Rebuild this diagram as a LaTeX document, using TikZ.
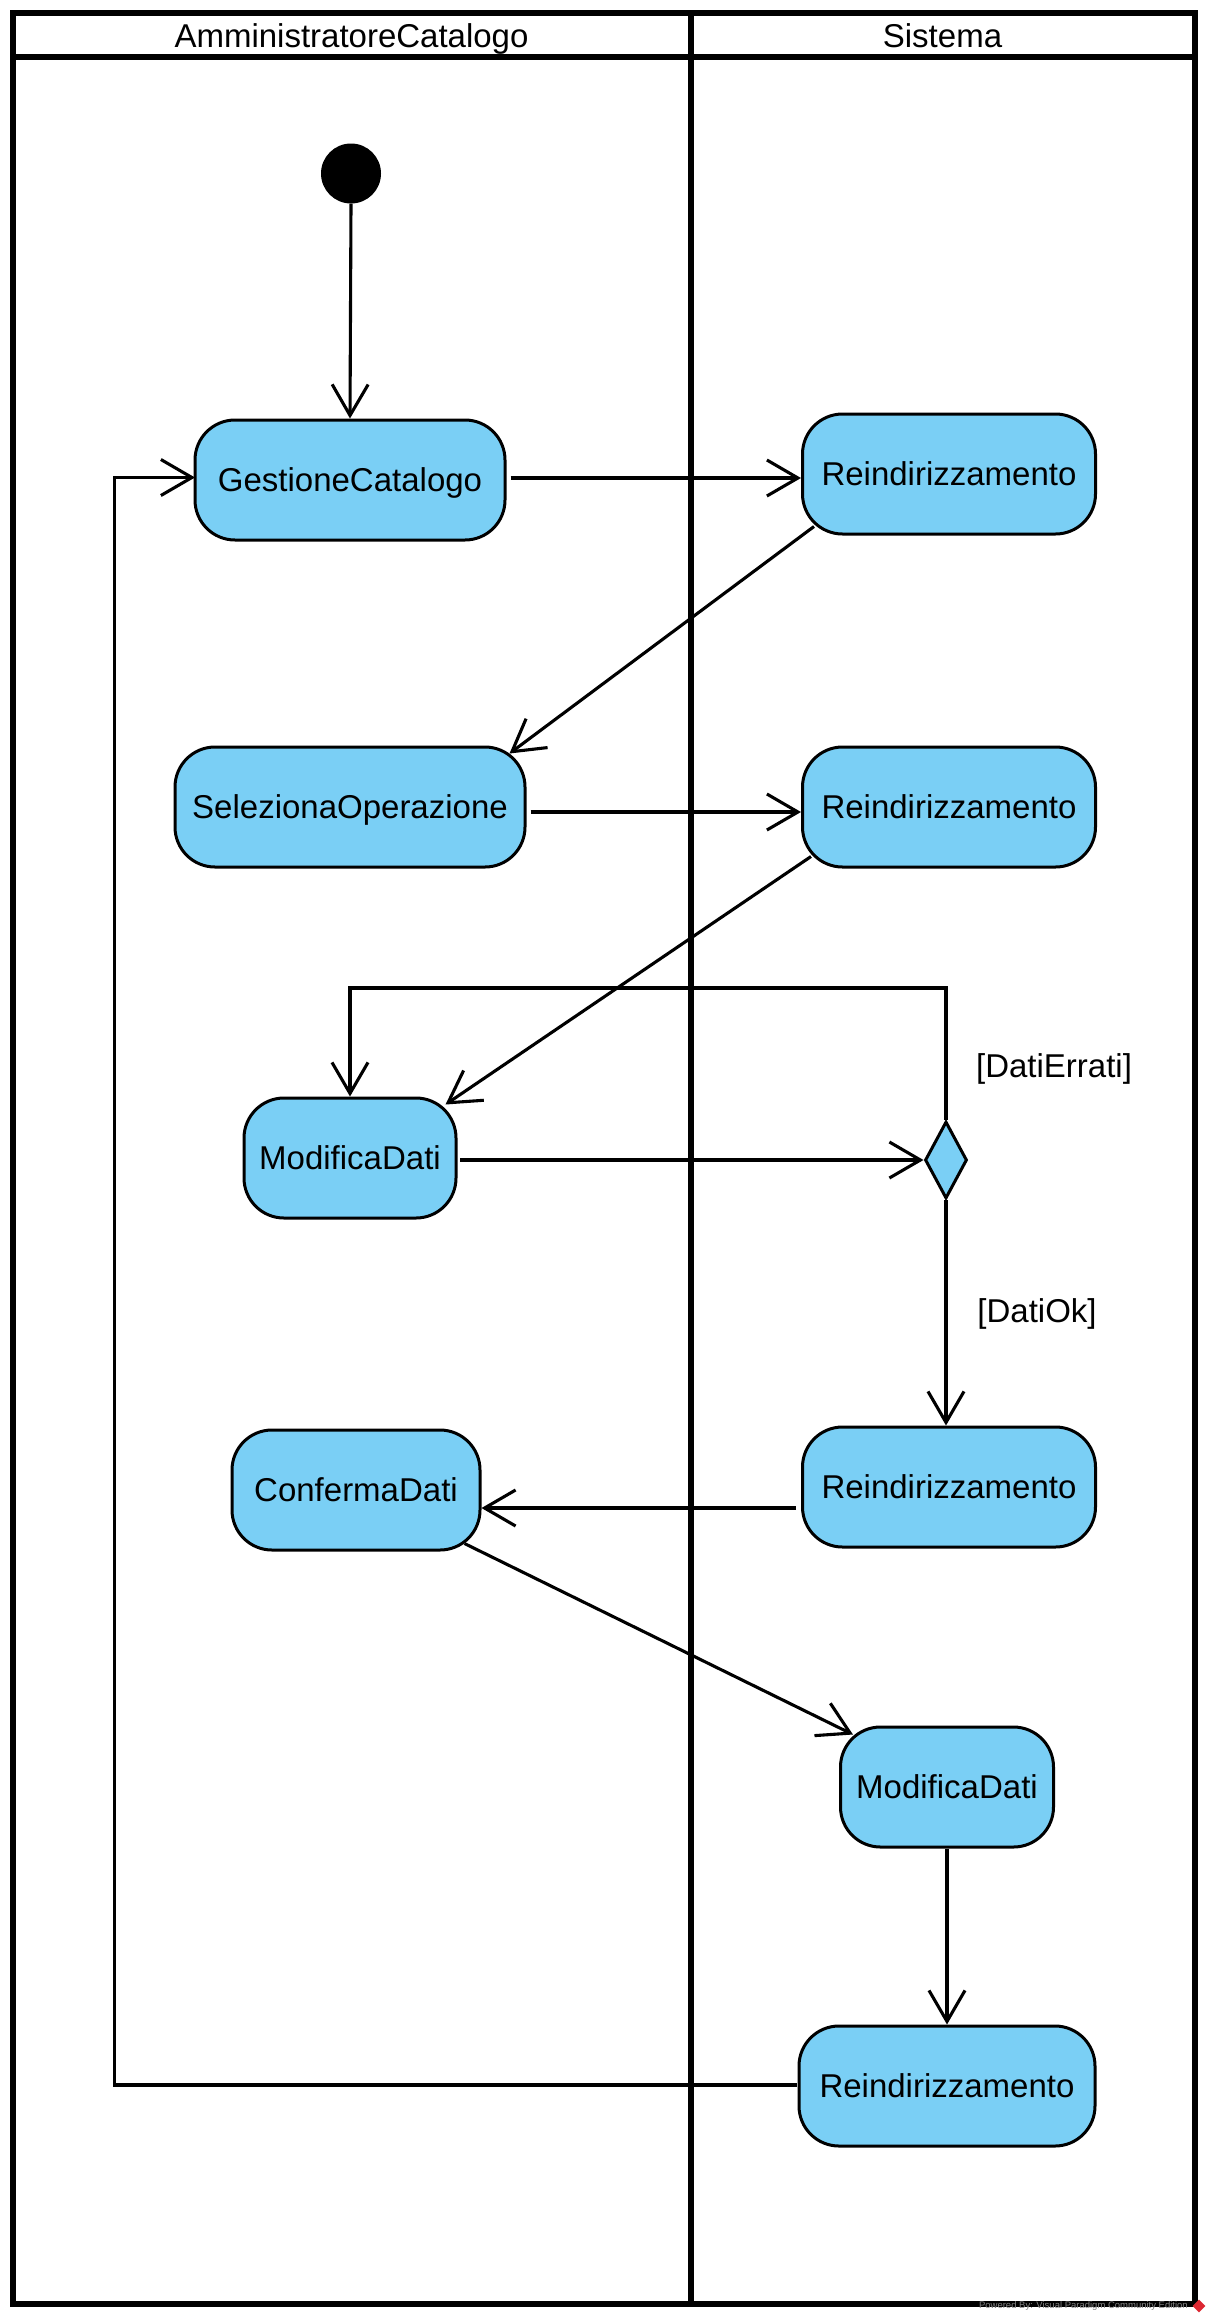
\documentclass[tikz,border=0pt]{standalone}
\usepackage{fontspec}
\setmainfont{Liberation Sans}
\usetikzlibrary{arrows.meta,shapes.geometric,calc}
\definecolor{actblue}{RGB}{122,207,245}
\definecolor{wmgray}{RGB}{130,130,130}
\definecolor{vpred}{RGB}{220,40,50}
\tikzset{
  act/.style={draw=black, fill=actblue, line width=3pt, rounded corners=40pt,
    minimum height=120pt, inner sep=0pt, text height=23.6pt, text depth=0pt,
    font=\fontsize{33}{39}\selectfont},
  flow/.style={draw=black, line width=3.1pt, -{Straight Barb[length=31pt,width=36pt]}},
  frameline/.style={draw=black, line width=6pt},
  lbl/.style={font=\fontsize{33}{39}\selectfont, inner sep=0pt, text height=23.6pt, text depth=0pt},
  dec/.style={diamond, draw=black, fill=actblue, line width=3pt, inner sep=0pt,
    minimum width=42pt, minimum height=77pt}
}
\begin{document}
\begin{tikzpicture}[x={(1pt,0pt)}, y={(0pt,-1pt)}]
\useasboundingbox (0,0) rectangle (1209,2319);
% swimlane frame
\draw[frameline] (12.5,12.5) rectangle (1194.5,2304);
\draw[frameline] (12.5,57) -- (1194.5,57);
\draw[frameline] (690.5,12.5) -- (690.5,2304);
\node[lbl] (h1) at (351.5,35.5) {AmministratoreCatalogo};
\node[lbl] (h2) at (942.5,35.5) {Sistema};
% initial node
\node[circle, fill=black, minimum size=60pt, inner sep=0pt] (init) at (351,173.5) {};
% activities
\node[act, minimum width=310pt] (gc) at (350,480) {GestioneCatalogo};
\node[act, minimum width=293pt] (r1) at (949,474) {Reindirizzamento};
\node[act, minimum width=350pt] (sel) at (350,807) {SelezionaOperazione};
\node[act, minimum width=293pt] (r2) at (949,807) {Reindirizzamento};
\node[act, minimum width=212pt] (mod1) at (350,1158) {ModificaDati};
\node[dec] (d) at (946,1160) {};
\node[act, minimum width=293pt] (r3) at (949,1487) {Reindirizzamento};
\node[act, minimum width=248pt] (conf) at (356,1490) {ConfermaDati};
\node[act, minimum width=213pt] (m2) at (947,1787) {ModificaDati};
\node[act, minimum width=296pt] (r4) at (947,2086) {Reindirizzamento};
% guards
\node[lbl] (g1) at (1054,1066) {[DatiErrati]};
\node[lbl] (g2) at (1037,1311) {[DatiOk]};
% helper coordinates
\coordinate (looptop) at (946,988);
\coordinate (loopleft) at (114.5,2085);
\coordinate (r4out) at (797,2085);
\coordinate (gcin) at (195,477.5);
\coordinate (modout) at (460,1160);
% connectors
\draw[flow] (init.south) -- (gc.north);
\draw[flow] ($(gc.east)+(4,-2)$) -- ($(r1.west)+(0,4)$);
\draw[flow] ($(r1.south west)+(13,-9)$) -- ($(sel.north east)+(-17,8)$);
\draw[flow] ($(sel.east)+(4,5)$) -- ($(r2.west)+(0,5)$);
\draw[flow] ($(r2.south west)+(10,-12)$) -- ($(mod1.north east)+(-12,8)$);
\draw[flow] (modout) -- (d.west);
\draw[flow] (d.north) -- (d.north |- looptop) -| (mod1.north);
\draw[flow] (d.south) -- (d.south |- r3.north);
\draw[flow] ($(r3.west)+(-5,21)$) -- ($(conf.east)+(0,18)$);
\draw[flow] ($(conf.south east)+(-17,-8)$) -- ($(m2.north west)+(14,9)$);
\draw[flow] (m2.south) -- (m2.south |- r4.north);
\draw[flow] (r4out) -- (loopleft) |- (gcin);
% watermark
\node[font=\fontsize{9.5}{11}\selectfont, text=wmgray, anchor=east, inner sep=0pt] (wm) at (1188,2306) {Powered By: Visual Paradigm Community Edition};
\node[diamond, fill=vpred, minimum width=13pt, minimum height=13pt, inner sep=0pt] (logo) at (1199,2306) {};
\end{tikzpicture}
\end{document}
